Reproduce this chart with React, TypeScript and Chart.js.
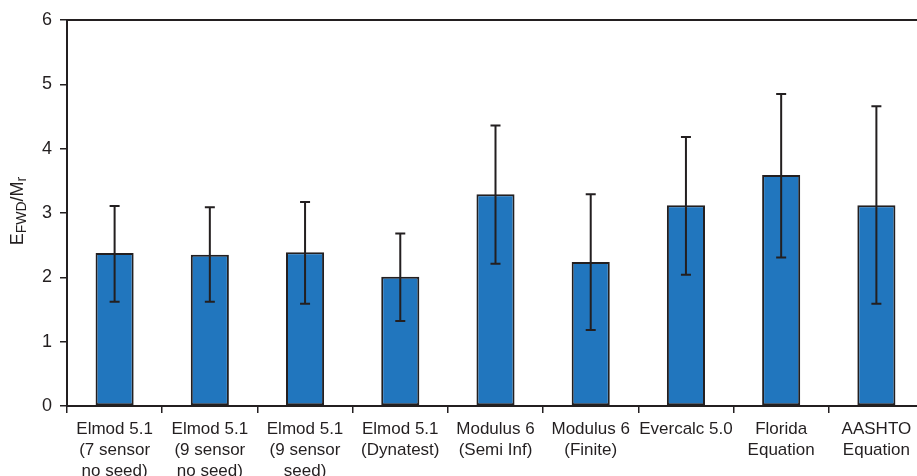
import React, { useEffect, useRef } from "react";
import { Chart, registerables } from "chart.js";

Chart.register(...registerables);

const categories: string[][] = [
  ["Elmod 5.1", "(7 sensor", "no seed)"],
  ["Elmod 5.1", "(9 sensor", "no seed)"],
  ["Elmod 5.1", "(9 sensor", "seed)"],
  ["Elmod 5.1", "(Dynatest)"],
  ["Modulus 6", "(Semi Inf)"],
  ["Modulus 6", "(Finite)"],
  ["Evercalc 5.0"],
  ["Florida", "Equation"],
  ["AASHTO", "Equation"],
];
const meanValues = [2.38, 2.35, 2.39, 2.01, 3.29, 2.24, 3.12, 3.59, 3.12];
const errHigh = [3.11, 3.09, 3.17, 2.68, 4.36, 3.29, 4.18, 4.85, 4.66];
const errLow = [1.62, 1.62, 1.59, 1.32, 2.21, 1.18, 2.04, 2.31, 1.59];
const yTicks = [0, 1, 2, 3, 4, 5, 6];

const INK = "#231f20";
const FONT = "'Liberation Sans', Arial, Helvetica, sans-serif";

const errorBarPlugin = {
  id: "errorBars",
  afterDatasetsDraw(chart: any) {
    const meta = chart.getDatasetMeta(0);
    const y = chart.scales.y;
    const ctx = chart.ctx;
    ctx.save();
    ctx.strokeStyle = INK;
    ctx.lineWidth = 2;
    meta.data.forEach((bar: any, i: number) => {
      const x = bar.x;
      const yt = y.getPixelForValue(errHigh[i]);
      const yb = y.getPixelForValue(errLow[i]);
      const cap = 5;
      ctx.beginPath();
      ctx.moveTo(x, yt);
      ctx.lineTo(x, yb);
      ctx.moveTo(x - cap, yt);
      ctx.lineTo(x + cap, yt);
      ctx.moveTo(x - cap, yb);
      ctx.lineTo(x + cap, yb);
      ctx.stroke();
    });
    ctx.restore();
  },
};

const frameAndTitlePlugin = {
  id: "frameTitle",
  afterDraw(chart: any) {
    const { ctx, chartArea } = chart;
    ctx.save();
    ctx.strokeStyle = INK;
    ctx.lineWidth = 2;
    ctx.beginPath();
    ctx.moveTo(chartArea.left - 1, chartArea.top);
    ctx.lineTo(chartArea.right, chartArea.top);
    ctx.stroke();

    // y-axis title with subscripts
    const cy = (chartArea.top + chartArea.bottom) / 2 - 2;
    ctx.translate(23, cy);
    ctx.rotate(-Math.PI / 2);
    ctx.fillStyle = INK;
    ctx.textBaseline = "alphabetic";
    ctx.textAlign = "left";
    const big = `18px ${FONT}`;
    const small = `14px ${FONT}`;
    const parts: [string, string, number][] = [
      ["E", big, 0],
      ["FWD", small, 3],
      ["/M", big, 0],
      ["r", small, 3],
    ];
    let total = 0;
    parts.forEach(([t, f]) => {
      ctx.font = f;
      total += ctx.measureText(t).width;
    });
    let x = -total / 2;
    parts.forEach(([t, f, dy]) => {
      ctx.font = f;
      ctx.fillText(t, x, dy);
      x += ctx.measureText(t).width;
    });
    ctx.restore();
  },
};

export default function App() {
  const ref = useRef<HTMLCanvasElement | null>(null);
  useEffect(() => {
    if (!ref.current) return;
    const chart = new Chart(ref.current, {
      type: "bar",
      data: {
        labels: categories,
        datasets: [
          {
            data: meanValues,
            backgroundColor: "#2176be",
            borderColor: INK,
            borderWidth: 2,
            borderSkipped: false,
            barPercentage: 0.4,
            categoryPercentage: 1,
          },
        ],
      },
      options: {
        responsive: false,
        animation: false,
        layout: { padding: { top: 20, left: 0, right: 2, bottom: 0 } },
        plugins: {
          legend: { display: false },
          tooltip: { enabled: false },
          title: { display: false },
        },
        scales: {
          x: {
            grid: {
              display: true,
              offset: true,
              drawOnChartArea: false,
              drawTicks: true,
              tickLength: 7,
              color: INK,
              lineWidth: 1.5,
            },
            border: { display: true, color: INK, width: 2 },
            ticks: {
              color: INK,
              font: { family: FONT, size: 17, lineHeight: 1.22 },
              padding: 6,
              maxRotation: 0,
              autoSkip: false,
            },
            afterFit(scale: any) {
              scale.height = 70;
            },
          },
          y: {
            min: 0,
            max: 6,
            afterBuildTicks(scale: any) {
              scale.ticks = yTicks.map((v) => ({ value: v }));
            },
            grid: {
              display: true,
              drawOnChartArea: false,
              drawTicks: true,
              tickLength: 7,
              color: INK,
              lineWidth: 1.5,
            },
            border: { display: true, color: INK, width: 2 },
            ticks: {
              color: INK,
              font: { family: FONT, size: 18 },
              padding: 8,
            },
            afterFit(scale: any) {
              scale.width = 67;
            },
          },
        },
      },
      plugins: [errorBarPlugin, frameAndTitlePlugin],
    });
    return () => chart.destroy();
  }, []);
  return (
    <div
      style={{
        position: "fixed",
        left: 0,
        top: 0,
        width: 917,
        height: 476,
        overflow: "hidden",
        background: "#fff",
      }}
    >
      <canvas ref={ref} width={926} height={476} style={{ display: "block" }} />
    </div>
  );
}
